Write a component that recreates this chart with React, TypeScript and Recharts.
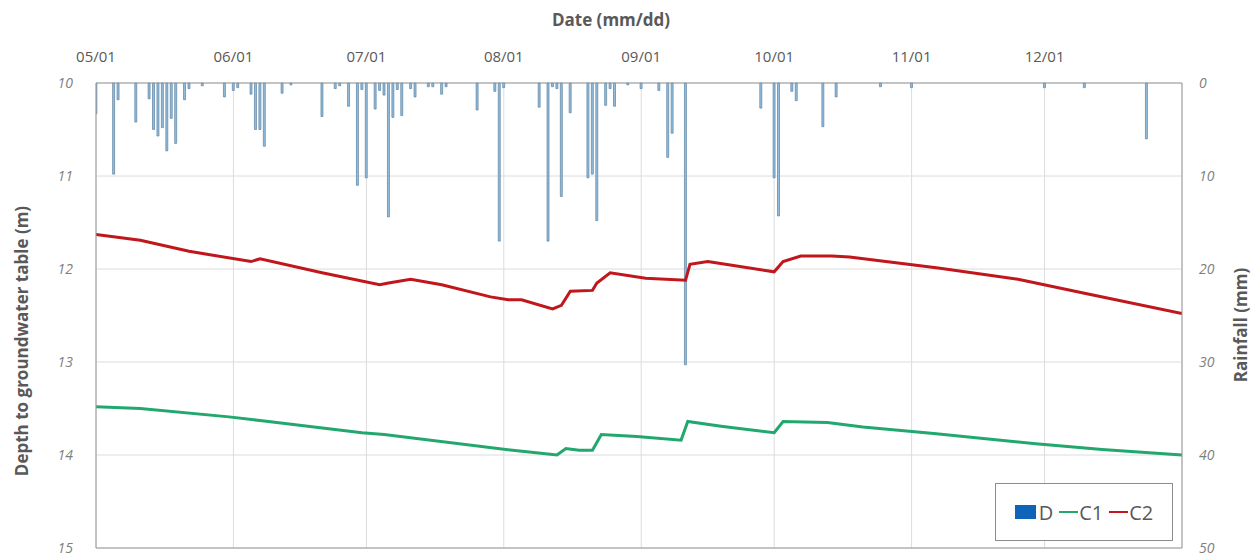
// Groundwater depth (C1, C2) with daily rainfall (D) hanging from the top
import {
  ComposedChart,
  Bar,
  Line,
  XAxis,
  YAxis,
  CartesianGrid,
  ReferenceLine,
} from 'recharts'

// x is day count from 05/01
const monthTicks = [0, 31, 61, 92, 123, 153, 184, 214]
const monthLabels = ['05/01', '06/01', '07/01', '08/01', '09/01', '10/01', '11/01', '12/01']

const depthTicks = [10, 11, 12, 13, 14, 15]
const rainTicks = [0, 10, 20, 30, 40, 50]

// rainfall D (mm)
const rainDays = [
  0, 4, 5, 9, 12, 13, 14, 15, 16, 17, 18, 20, 21, 24, 29, 31, 32, 35, 36, 37, 38, 42, 44,
  51, 54, 55, 57, 59, 60, 61, 63, 64, 65, 66, 67, 68, 69, 71, 72, 75, 76, 78, 79, 86, 90,
  91, 92, 100, 102, 103, 104, 105, 107, 111, 112, 113, 115, 116, 117, 120, 123, 127, 129,
  130, 133, 150, 153, 154, 157, 158, 164, 167, 177, 184, 214, 223, 237,
]
const rainMm = [
  3.3, 9.8, 1.8, 4.2, 1.7, 5.0, 5.7, 4.8, 7.3, 3.8, 6.5, 1.8, 0.6, 0.3, 1.5, 0.8, 0.5, 1.2, 5.0, 5.0, 6.8, 1.1, 0.2,
  3.6, 0.6, 0.3, 2.5, 11.0, 0.7, 10.2, 2.8, 0.8, 1.3, 14.4, 3.7, 0.7, 3.5, 0.6, 1.5, 0.4, 0.4, 1.2, 0.4, 2.9, 0.9,
  17.0, 0.5, 2.6, 17.0, 0.4, 0.6, 12.2, 3.2, 10.2, 9.8, 14.8, 2.4, 0.6, 2.5, 0.2, 0.6, 0.8, 8.0,
  5.4, 30.3, 2.7, 10.2, 14.3, 0.9, 1.9, 4.7, 1.5, 0.4, 0.5, 0.5, 0.5, 6.0,
]

// C1 depth (m)
const c1Days = [0, 10, 30, 37, 60, 65, 94, 104, 106, 109, 112, 114, 122, 132, 133.5, 141, 153, 155, 165, 173, 189, 212, 227, 245]
const c1Depth = [13.48, 13.5, 13.59, 13.63, 13.76, 13.78, 13.95, 14.0, 13.93, 13.95, 13.95, 13.78, 13.8, 13.84, 13.64, 13.69, 13.76, 13.64, 13.65, 13.7, 13.77, 13.88, 13.94, 14.0]

// C2 depth (m)
const c2Days = [0, 10, 21, 35, 37, 51, 64, 66, 71, 78, 89, 93, 96, 103, 105, 107, 112, 113, 116, 124, 133, 134, 138, 142, 153, 155, 159, 166, 170, 190, 208, 223, 245]
const c2Depth = [11.63, 11.69, 11.81, 11.92, 11.89, 12.04, 12.17, 12.15, 12.11, 12.17, 12.3, 12.33, 12.33, 12.43, 12.39, 12.24, 12.23, 12.15, 12.04, 12.1, 12.12, 11.95, 11.92, 11.95, 12.03, 11.92, 11.86, 11.86, 11.87, 11.99, 12.11, 12.26, 12.48]

const rainData = rainDays.map((d, i) => ({ day: d, rain: rainMm[i] }))
const c1Data = c1Days.map((d, i) => ({ day: d, c1: c1Depth[i] }))
const c2Data = c2Days.map((d, i) => ({ day: d, c2: c2Depth[i] }))

const FONT = '"Open Sans", sans-serif'
const GREY = '#595959'
const GREEN = '#22a86e'
const RED = '#c0161c'
const BORDER = '#9a9a9a'

function LegendBox() {
  const item: React.CSSProperties = { display: 'flex', alignItems: 'center' }
  return (
    <div style={{
      position: 'absolute', left: 995, top: 483, width: 178, height: 58,
      border: '1px solid #8c8c8c', background: 'white', boxSizing: 'border-box',
      display: 'flex', alignItems: 'center', justifyContent: 'center', gap: 6,
      fontFamily: FONT, fontSize: 20, color: GREY,
    }}>
      <span style={item}>
        <span style={{ width: 21, height: 14, background: '#0f63b8', marginRight: 3 }} />D
      </span>
      <span style={item}>
        <span style={{ width: 19, height: 2.5, background: GREEN, marginRight: 1 }} />C1
      </span>
      <span style={item}>
        <span style={{ width: 19, height: 2.5, background: RED, marginRight: 1 }} />C2
      </span>
    </div>
  )
}

export default function App() {
  const axisTitle: React.CSSProperties = {
    position: 'absolute', fontFamily: FONT, fontWeight: 700, fontSize: 17,
    color: GREY, whiteSpace: 'nowrap', transform: 'translate(-50%, -50%)',
  }
  return (
    <div style={{ position: 'absolute', left: 0, top: 0, width: 1258, height: 558, background: 'white' }}>
      <ComposedChart
        width={1258}
        height={558}
        data={rainData}
        margin={{ top: 0, right: 0, left: 0, bottom: 10 }}
      >
        <CartesianGrid
          yAxisId="depth"
          stroke="#dcdcdc"
          strokeWidth={1}
        />
        <XAxis
          dataKey="day"
          type="number"
          orientation="top"
          domain={[0, 245]}
          ticks={monthTicks}
          tickFormatter={(v) => monthLabels[monthTicks.indexOf(v)] ?? ''}
          height={83}
          tickSize={0}
          tickMargin={21}
          tickLine={false}
          axisLine={{ stroke: BORDER }}
          tick={{ fontSize: 15, fill: GREY, fontFamily: FONT }}
          allowDataOverflow
        />
        <YAxis
          yAxisId="depth"
          domain={[10, 15]}
          ticks={depthTicks}
          reversed
          width={96}
          tickSize={0}
          tickMargin={23}
          tickLine={false}
          axisLine={{ stroke: BORDER }}
          tick={{ fontSize: 14, fill: '#7f7f7f', fontStyle: 'italic', fontFamily: FONT }}
        />
        <YAxis
          yAxisId="rain"
          orientation="right"
          domain={[0, 50]}
          ticks={rainTicks}
          reversed
          width={76}
          tickSize={0}
          tickMargin={17}
          tickLine={false}
          axisLine={{ stroke: BORDER }}
          tick={{ fontSize: 14, fill: '#7f7f7f', fontStyle: 'italic', fontFamily: FONT, textAnchor: 'start' }}
        />
        <ReferenceLine yAxisId="depth" y={15} stroke={BORDER} />
        <Bar
          yAxisId="rain"
          dataKey="rain"
          barSize={3}
          fill="#94bddc"
          stroke="#5a83a4"
          strokeWidth={0.7}
          isAnimationActive={false}
        />
        <Line
          yAxisId="depth"
          data={c1Data}
          dataKey="c1"
          type="linear"
          stroke={GREEN}
          strokeWidth={3}
          dot={false}
          isAnimationActive={false}
        />
        <Line
          yAxisId="depth"
          data={c2Data}
          dataKey="c2"
          type="linear"
          stroke={RED}
          strokeWidth={3}
          dot={false}
          isAnimationActive={false}
        />
      </ComposedChart>
      <div style={{ ...axisTitle, left: 611, top: 19 }}>Date (mm/dd)</div>
      <div style={{ ...axisTitle, left: 21, top: 341, transform: 'translate(-50%, -50%) rotate(-90deg)' }}>
        Depth to groundwater table (m)
      </div>
      <div style={{ ...axisTitle, left: 1240, top: 325, transform: 'translate(-50%, -50%) rotate(-90deg)' }}>
        Rainfall (mm)
      </div>
      <LegendBox />
    </div>
  )
}
